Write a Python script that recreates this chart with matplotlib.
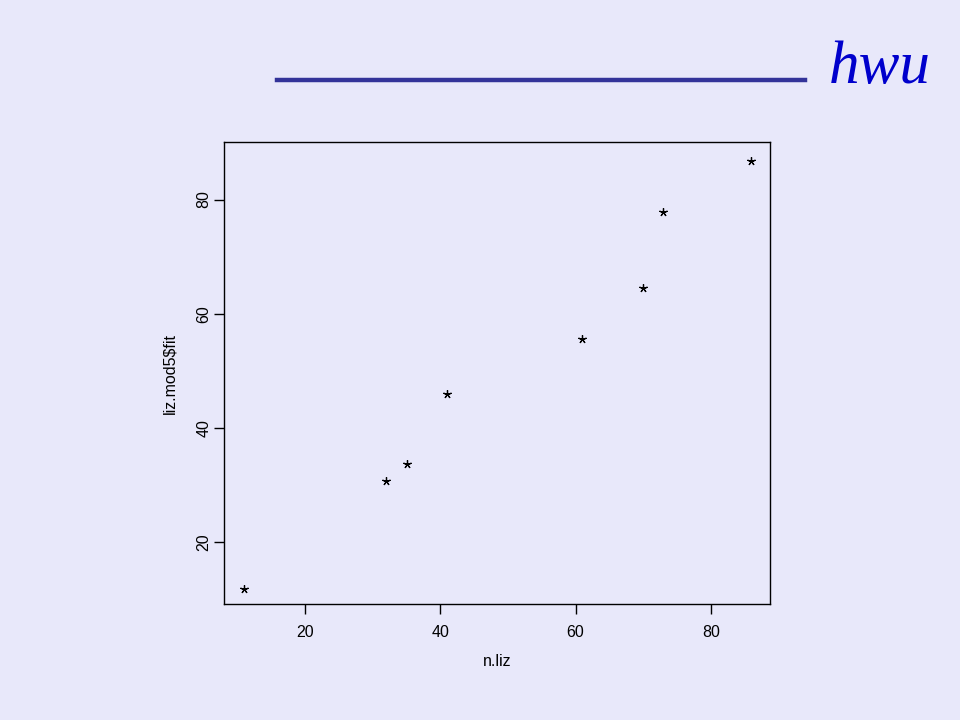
import matplotlib.pyplot as plt

#%% Data #####################################################################
n_liz = [11, 32, 35, 41, 61, 70, 73, 86]
fit = [11.8, 30.7, 33.6, 45.9, 55.5, 64.5, 77.8, 86.7]
xticks = [20, 40, 60, 80]
yticks = [20, 40, 60, 80]

bg = '#E8E8FA'

#%% Plot #####################################################################
fig = plt.figure(figsize=(9.6, 7.2), dpi=100, facecolor=bg)

# slide header: rule + "hwu"
fig.add_artist(plt.Line2D([277 / 960, 805 / 960], [1 - 80 / 720] * 2,
                          color='#333399', lw=3.2, transform=fig.transFigure))
fig.text(931 / 960, 1 - 83 / 720, 'hwu', color='#0000CC', fontsize=44,
         family='Liberation Serif', style='italic', ha='right',
         va='baseline')

ax = fig.add_axes([224 / 960, 1 - 604 / 720, 546.5 / 960, 461.7 / 720])
ax.set_facecolor(bg)
ax.plot(n_liz, fit, ls='none', marker=(5, 2, 0), ms=6, mew=0.9,
        color='black')

ax.set_xlim(8.0, 88.83)
ax.set_ylim(9.15, 90.03)
ax.set_xticks(xticks)
ax.set_yticks(yticks)
ax.set_yticklabels([str(v) for v in yticks], rotation=90, va='center')
for s in ax.spines.values():
    s.set_linewidth(1.0)
ax.tick_params(direction='out', length=7, width=1,
               labelsize=11.5, labelfontfamily='Liberation Sans')
ax.tick_params(axis='x', pad=8)
ax.tick_params(axis='y', pad=2)

ax.set_xlabel('n.liz', fontsize=11.5, family='Liberation Sans', labelpad=10)
ax.set_ylabel('liz.mod5$fit', fontsize=11.5, family='Liberation Sans',
              labelpad=14)

fig.savefig('out.png', dpi=100, facecolor=bg)
